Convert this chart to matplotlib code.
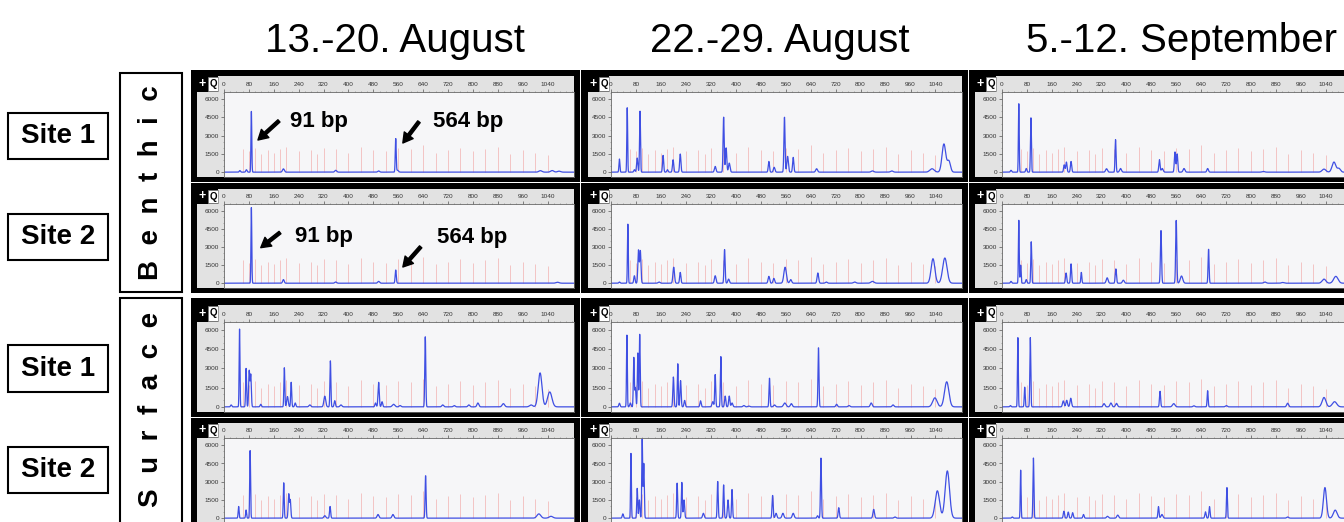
import numpy as np
import matplotlib
matplotlib.use("Agg")
import matplotlib.pyplot as plt
from matplotlib.patches import Rectangle
from matplotlib.ticker import MultipleLocator

plt.rcParams["font.family"] = ["Liberation Sans", "DejaVu Sans"]

# -----------------------------
# Data
# peaks: (fragment size bp, height, peak width bp)
# -----------------------------

col_titles = ["13.-20. August", "22.-29. August", "5.-12. September"]
row_sites = ["Site 1", "Site 2", "Site 1", "Site 2"]
habitats = ["B  e  n  t  h  i  c", "S  u  r  f  a  c  e"]

x_ticks = list(range(0, 1041, 80))
y_ticks = [0, 1500, 3000, 4500, 6000]

ladder_bp = [60, 80, 100, 120, 140, 160, 180, 200, 240, 280, 300, 320, 360, 400,
             440, 480, 520, 560, 600, 640, 680, 720, 760, 800, 840, 880, 920,
             960, 1000, 1040]
ladder_height = [1900, 1700, 2000, 1500, 1800, 1600, 1900, 2100, 1700, 1800,
                 1500, 2000, 1900, 1600, 2100, 1800, 1700, 2000, 1900, 2200,
                 1600, 1800, 2000, 1700, 1900, 2100, 1500, 1800, 1600, 1400]

benthic1_aug13 = [(51, 130, 2), (72, 200, 2), (88, 5000, 1.3), (191, 270, 3),
                  (359, 150, 3), (497, 100, 3), (552, 2750, 1.5), (558, 150, 3),
                  (1017, 120, 5), (1055, 130, 5), (1077, 80, 5)]
benthic2_aug13 = [(88, 6300, 1.3), (191, 300, 2.5), (359, 100, 3), (497, 150, 3),
                  (552, 1100, 1.8), (1072, 80, 5)]

benthic1_aug22 = [(27, 1080, 1.5), (52, 5300, 1.3), (75, 200, 2), (84, 1160, 2),
                  (93, 5020, 1.5), (167, 1380, 1.8), (181, 200, 2), (199, 1020, 2),
                  (222, 1490, 2), (334, 470, 2.5), (361, 4530, 1.8), (369, 2000, 2),
                  (379, 745, 2.5), (506, 880, 2), (523, 400, 2.5), (556, 4530, 1.8),
                  (566, 1300, 2.5), (584, 1215, 2), (659, 280, 3), (838, 100, 4),
                  (900, 100, 4), (1029, 280, 7), (1067, 2320, 6), (1083, 900, 5)]
benthic2_aug22 = [(27, 100, 2), (54, 4920, 1.3), (75, 620, 2), (88, 2750, 2),
                  (94, 2700, 2), (154, 100, 3), (201, 1330, 2.5), (222, 900, 2),
                  (334, 620, 2.5), (364, 2800, 1.8), (377, 340, 2.5), (506, 570, 2.5),
                  (522, 400, 2.5), (558, 1330, 4), (576, 300, 3), (663, 850, 2.5),
                  (690, 100, 3), (781, 100, 4), (838, 150, 5), (1032, 2040, 6),
                  (1070, 2100, 7)]

benthic1_sep5 = [(29, 150, 2), (54, 5630, 1.3), (78, 300, 2), (93, 4470, 1.5),
                 (200, 600, 2), (207, 830, 2), (222, 880, 2), (336, 280, 3),
                 (365, 2680, 1.6), (381, 300, 3), (506, 1020, 2), (515, 300, 3),
                 (556, 1660, 2), (563, 1500, 2), (585, 300, 3), (661, 300, 2.5),
                 (840, 60, 4), (1035, 250, 6), (1067, 830, 6), (1083, 300, 5)]
benthic2_sep5 = [(29, 150, 2), (54, 5240, 1.3), (60, 1500, 1.5), (78, 300, 2),
                 (94, 3450, 1.5), (206, 850, 2), (222, 1610, 1.8), (255, 900, 1.6),
                 (338, 450, 3), (366, 1190, 2), (390, 250, 3), (511, 4390, 1.8),
                 (560, 5240, 1.8), (577, 600, 4), (664, 2830, 1.6), (845, 100, 4),
                 (902, 60, 4), (1035, 340, 6), (1073, 570, 7)]

surface1_aug13 = [(23, 150, 2), (50, 6050, 1.3), (71, 2990, 1.5), (81, 2800, 1.8),
                  (86, 2500, 1.8), (118, 200, 2), (194, 3040, 1.5), (204, 800, 2.5),
                  (216, 1910, 1.6), (229, 300, 2), (276, 150, 3), (324, 830, 3),
                  (342, 3580, 1.5), (356, 480, 2), (376, 150, 3), (487, 300, 2),
                  (497, 1910, 2), (508, 400, 2), (545, 200, 4), (566, 100, 3),
                  (647, 5460, 1.6), (703, 150, 3), (740, 100, 3), (787, 150, 3),
                  (816, 300, 3), (898, 250, 4), (987, 150, 5), (1016, 2640, 6),
                  (1047, 1160, 7)]
surface2_aug13 = [(47, 960, 1.5), (71, 670, 1.5), (84, 5560, 1.4), (192, 2910, 1.5),
                  (208, 1980, 1.8), (213, 1500, 1.8), (324, 200, 3), (341, 960, 1.8),
                  (495, 300, 3), (543, 300, 3), (648, 3500, 1.6), (1012, 350, 6),
                  (1051, 150, 6)]

surface1_aug22 = [(27, 280, 2), (51, 5580, 1.3), (62, 300, 2), (73, 3820, 1.5),
                  (78, 1500, 1.8), (86, 4190, 1.5), (92, 5640, 1.5), (200, 2320, 1.8),
                  (214, 3350, 1.5), (223, 2040, 1.8), (236, 500, 2), (287, 470, 2),
                  (326, 400, 2.5), (334, 2510, 1.6), (352, 3910, 1.5), (366, 840, 2),
                  (379, 840, 2), (388, 300, 2.5), (426, 100, 3), (442, 60, 3),
                  (508, 2230, 1.6), (524, 150, 3), (557, 300, 4), (578, 250, 3),
                  (665, 4600, 1.6), (723, 200, 2.5), (763, 100, 3), (834, 300, 3),
                  (904, 150, 3), (1038, 700, 7), (1076, 1950, 7)]
surface2_aug22 = [(38, 350, 2), (64, 5330, 1.3), (84, 2450, 1.5), (91, 1500, 1.8),
                  (100, 6480, 1.4), (105, 4500, 1.6), (212, 2880, 1.6), (227, 2940, 1.5),
                  (234, 1500, 2), (296, 400, 2.5), (342, 3020, 1.6), (361, 2740, 1.6),
                  (375, 1500, 2), (388, 2360, 1.6), (518, 1870, 1.8), (529, 400, 2.5),
                  (551, 400, 3), (584, 400, 3), (662, 200, 2), (673, 4950, 1.6),
                  (730, 860, 2), (842, 720, 2.5), (910, 100, 3), (1046, 2250, 7),
                  (1078, 3890, 7)]

surface1_sep5 = [(27, 100, 2), (51, 5380, 1.3), (73, 1530, 1.5), (91, 5380, 1.5),
                 (197, 460, 2.5), (208, 510, 2.5), (221, 670, 2.5), (328, 250, 3),
                 (350, 300, 3), (368, 270, 3), (508, 1210, 1.8), (552, 250, 4),
                 (617, 80, 3), (661, 1260, 1.6), (721, 100, 3), (918, 280, 3),
                 (1035, 730, 6), (1069, 400, 7)]
surface2_sep5 = [(33, 100, 2), (60, 3950, 1.3), (101, 4950, 1.5), (199, 570, 2),
                 (213, 500, 2), (227, 450, 2), (262, 300, 2), (339, 150, 3),
                 (372, 250, 3), (503, 950, 1.8), (514, 300, 3), (654, 520, 2),
                 (667, 950, 1.8), (723, 2520, 1.5), (918, 100, 3), (1038, 2520, 5),
                 (1071, 660, 6)]

panel_peaks = [
    [benthic1_aug13, benthic1_aug22, benthic1_sep5],
    [benthic2_aug13, benthic2_aug22, benthic2_sep5],
    [surface1_aug13, surface1_aug22, surface1_sep5],
    [surface2_aug13, surface2_aug22, surface2_sep5],
]

# labelled peaks in the first column (benthic rows)
marker_labels = ["91 bp", "564 bp"]


# -----------------------------
# Layout (pixels of a 1344 x 522 canvas)
# -----------------------------

W, H = 1344, 522

col_frame = [(191, 580), (581, 968), (969, 1362)]
col_strip = [197, 588, 975]
col_plot = [(224, 574), (611, 962), (1002, 1352)]
col_title_x = [395, 780, 1181]

row_frame = [(70, 182), (183, 293), (298, 417), (418, 530)]
row_head = [76, 189, 305, 423]
row_plot = [(92, 177), (204, 288), (322, 412), (438, 523)]
site_box = [(113, 159), (214, 260), (345, 392), (447, 493)]
habitat_box = [(73, 292), (298, 530)]

trace_color = "#3f4fe3"
ladder_color = "#f3c4c4"

fig = plt.figure(figsize=(W / 100, H / 100), dpi=100)


def frect(x0, y0, x1, y1, **kw):
    r = Rectangle((x0 / W, 1 - y1 / H), (x1 - x0) / W, (y1 - y0) / H,
                  transform=fig.transFigure, **kw)
    fig.add_artist(r)
    return r


def fax(x0, y0, x1, y1):
    return fig.add_axes([x0 / W, 1 - y1 / H, (x1 - x0) / W, (y1 - y0) / H])


xs = np.linspace(0, 1125, 4500)

for r in range(4):
    fy0, fy1 = row_frame[r]
    hy = row_head[r]
    py0, py1 = row_plot[r]
    for c in range(3):
        fx0, fx1 = col_frame[c]
        sx = col_strip[c]
        px0, px1 = col_plot[c]

        # black frame, grey header / label strip, magnifier box
        frect(fx0, fy0, fx1, fy1, facecolor="black", edgecolor="none", zorder=-3)
        frect(sx + 21, hy, px1, py0, facecolor="#e2e2e2", edgecolor="none", zorder=-2)
        frect(sx, py0, px0, py1, facecolor="#e2e2e2", edgecolor="none", zorder=-2)
        frect(sx + 11, hy + 1, sx + 21, py0 - 1, facecolor="white",
              edgecolor="#777777", lw=0.5, zorder=-1)
        fig.text((sx + 5) / W, 1 - (hy + py0) / 2 / H, "+", color="white",
                 fontsize=9, fontweight="bold", ha="center", va="center")
        fig.text((sx + 16) / W, 1 - (hy + py0) / 2 / H, "Q", color="black",
                 fontsize=7, fontweight="bold", ha="center", va="center")

        ax = fax(px0, py0, px1, py1)
        ax.set_facecolor("#f6f6f8")
        ax.set_xlim(0, 1125)
        ax.set_ylim(-400, 6600)

        ax.vlines(ladder_bp, 0, ladder_height, color=ladder_color, lw=0.7, zorder=1)

        peaks = panel_peaks[r][c]
        trace = np.zeros_like(xs)
        for pos, height, width in peaks:
            trace += height * np.exp(-0.5 * ((xs - pos) / width) ** 2)
        ax.plot(xs, trace, color=trace_color, lw=0.9, zorder=2)

        ax.xaxis.tick_top()
        ax.set_xticks(x_ticks)
        ax.set_yticks(y_ticks)
        ax.xaxis.set_minor_locator(MultipleLocator(20))
        ax.yaxis.set_minor_locator(MultipleLocator(500))
        ax.tick_params(axis="both", which="major", labelsize=4.6, length=2,
                       width=0.5, color="#555555", labelcolor="#333333", pad=1.5)
        ax.tick_params(axis="both", which="minor", length=1, width=0.4,
                       color="#777777")
        ax.tick_params(axis="x", which="both", top=True, bottom=False)
        for side, sp in ax.spines.items():
            sp.set_linewidth(0.6)
            sp.set_color("#666666")

        # size annotations in the first column
        if c == 0 and r < 2:
            if r == 0:
                arrows = [((0.097, 0.435), (0.157, 0.66), (0.189, 0.59)),
                          ((0.511, 0.40), (0.557, 0.65), (0.597, 0.59))]
            else:
                arrows = [((0.105, 0.48), (0.16, 0.66), (0.203, 0.55)),
                          ((0.511, 0.25), (0.562, 0.49), (0.609, 0.54))]
            for label, (tip, tail, txt) in zip(marker_labels, arrows):
                ax.annotate("", xy=tip, xytext=tail, xycoords="axes fraction",
                            textcoords="axes fraction", annotation_clip=False,
                            arrowprops=dict(facecolor="black", edgecolor="black",
                                            width=2.2, headwidth=8, headlength=7,
                                            shrink=0))
                ax.text(txt[0], txt[1], label, transform=ax.transAxes,
                        fontsize=16, fontweight="bold", ha="left", va="baseline")

# -----------------------------
# Titles and side labels
# -----------------------------

for c in range(3):
    fig.text(col_title_x[c] / W, 1 - 52 / H, col_titles[c], ha="center",
             va="baseline", fontsize=29)

for r in range(4):
    y0, y1 = site_box[r]
    frect(8, y0, 108, y1, facecolor="white", edgecolor="black", lw=1.5, zorder=1)
    fig.text(58 / W, 1 - (y0 + y1) / 2 / H, row_sites[r], ha="center",
             va="center", fontsize=20, fontweight="bold")

for i in range(2):
    y0, y1 = habitat_box[i]
    frect(120, y0, 182, y1, facecolor="white", edgecolor="black", lw=1.5, zorder=1)
    fig.text(151 / W, 1 - (y0 + min(y1, 520)) / 2 / H, habitats[i], rotation=90,
             ha="center", va="center", fontsize=20, fontweight="bold")

fig.savefig("out.png", dpi=100)
